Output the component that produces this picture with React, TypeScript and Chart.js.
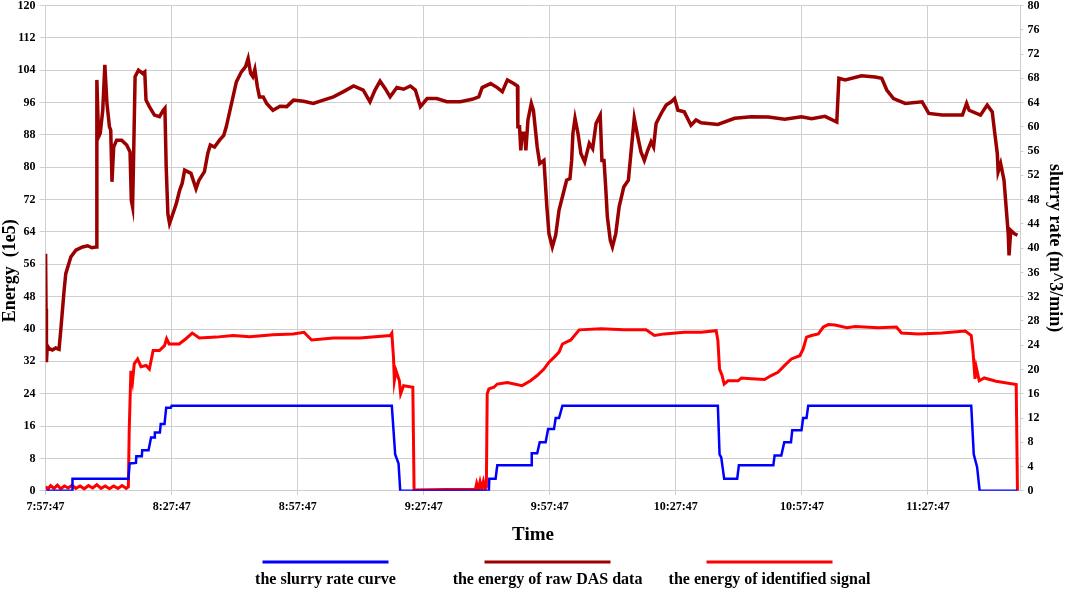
import { useEffect, useRef } from "react"
import { Chart, registerables } from "chart.js"

Chart.register(...registerables)

// minutes after 7:57:47
const timeTicks = [0, 30, 60, 90, 120, 150, 180, 210]
const timeLabels = ["7:57:47", "8:27:47", "8:57:47", "9:27:47", "9:57:47", "10:27:47", "10:57:47", "11:27:47"]

// [minute, m^3/min]
const slurryRate: [number, number][] = [
  [0, 0], [6.3, 0], [6.4, 2], [19.7, 2], [20.0, 4.5], [21.5, 4.6], [21.6, 5.7], [22.9, 5.7], [23.0, 6.7], [24.5, 6.7],
  [25.1, 8.8], [25.9, 8.8], [26.0, 9.6], [27.2, 9.6], [27.4, 11], [28.3, 11], [28.7, 13.7], [29.8, 13.7], [30.0, 14],
  [82.4, 14], [83.2, 6], [84.0, 4.5], [84.4, 0], [105.5, 0], [105.6, 2], [107.1, 2], [107.5, 4.2], [115.6, 4.2],
  [115.7, 6.2], [117, 6.2], [117.6, 8], [119.0, 8], [119.6, 10.2], [121.0, 10.2], [121.4, 12], [122.2, 12], [123.0, 14],
  [160.0, 14], [160.4, 6], [160.8, 5.5], [161.5, 2], [164.6, 2], [165.0, 4.2], [173.2, 4.2], [173.5, 5.8], [175.1, 5.8],
  [175.8, 8], [177.4, 8], [177.7, 10], [179.9, 10], [180.3, 12], [181.1, 12], [181.5, 14], [220.3, 14], [220.9, 6],
  [221.7, 3.9], [222.3, 0], [231.3, 0],
]

// [minute, energy 1e5]
const rawEnergy: [number, number][] = [
  [0, 58.6], [0.1, 45], [0.2, 31.8], [0.4, 35.9], [0.8, 35.2], [1.6, 34.8], [2.4, 35.3], [3.2, 35], [3.6, 39.6], [4.4, 49.5],
  [4.8, 53.7], [6.0, 57.8], [7.2, 59.5], [8.8, 60.3], [10.0, 60.6], [11.0, 60.1], [12.0, 60.3], [12.2, 101.6], [12.6, 87.5],
  [13.0, 88.4], [13.6, 94.1], [14.1, 105.3], [14.6, 95.8], [15.2, 90], [15.5, 89.2], [15.8, 76.4], [16.2, 85], [16.9, 86.7],
  [18.1, 86.7], [19.3, 85.5], [20.1, 83.8], [20.4, 71.8], [20.7, 70.2], [20.9, 80.1], [21.3, 102.4], [22.1, 104], [23.1, 103.2],
  [23.6, 103.6], [23.9, 96.6], [24.7, 95], [25.9, 92.9], [27.1, 92.5], [28.0, 94.1], [28.4, 94.6], [28.7, 80.1], [29.1, 68.5],
  [29.5, 66.1], [30.3, 68.5], [31.1, 71], [31.9, 74.3], [32.5, 76], [33.1, 79.3], [34.6, 78.5], [35.8, 74.7], [36.5, 76.8],
  [37.8, 78.9], [38.6, 83.4], [39.2, 85.5], [40.2, 85], [41.4, 86.7], [42.4, 87.9], [43.0, 90], [43.8, 93.7], [44.6, 97.4],
  [45.4, 101.1], [46.6, 103.6], [47.6, 104.9], [48.2, 106.9], [48.8, 103.2], [49.3, 102.4], [49.8, 104.2], [50.4, 99.9],
  [50.9, 97.4], [51.8, 97.4], [52.6, 95.8], [54.1, 94.1], [55.8, 95.1], [57.4, 95], [59.0, 96.6], [61.4, 96.3], [63.7, 95.8],
  [66.1, 96.6], [68.5, 97.4], [70.9, 98.7], [73.3, 100.1], [75.6, 99.1], [77.2, 96.2], [78.4, 99.1], [79.6, 101.3], [80.8, 99.5],
  [82.0, 97.4], [83.6, 99.7], [85.2, 99.3], [86.8, 100.1], [88.0, 99.1], [89.2, 95], [90.8, 97], [93.1, 97], [95.5, 96.2],
  [98.7, 96.2], [101.5, 96.8], [103.1, 97.4], [103.9, 99.7], [105.9, 100.7], [107.5, 99.7], [108.7, 98.7], [109.9, 101.6],
  [111.4, 100.7], [112.3, 100.1], [112.4, 90], [112.8, 90], [113.1, 84.2], [113.4, 88.4], [114.0, 88.4], [114.3, 84.2],
  [114.8, 91.7], [115.6, 95.8], [116.1, 94.1], [117.0, 85], [117.6, 80.9], [118.6, 81.7], [118.8, 78.5], [119.3, 70.2],
  [119.8, 63.6], [120.6, 60.3], [121.4, 63.2], [122.2, 69.4], [123.2, 73.5], [124.0, 76.8], [124.8, 77.2], [125.2, 81.7],
  [125.5, 88.4], [126.0, 92.1], [126.7, 88.4], [127.4, 83.4], [128.3, 81.3], [129.4, 85.9], [130.2, 84.6], [131.0, 90.8],
  [132.0, 92.9], [132.4, 81.7], [132.9, 81.7], [133.3, 75.1], [133.7, 67.7], [134.4, 61.9], [134.9, 60.3], [135.7, 63.6],
  [136.5, 70.2], [137.6, 75.1], [138.7, 76.8], [139.3, 83.4], [140.1, 92.1], [141.1, 86.7], [141.7, 83.8], [142.5, 81.7],
  [143.3, 84.2], [144.1, 86.3], [144.7, 85], [145.3, 90.8], [146.5, 93.3], [147.7, 95.4], [148.9, 96.2], [149.7, 97],
  [150.5, 94.1], [152.0, 93.7], [153.6, 90.4], [154.8, 91.7], [156.0, 91], [160.0, 90.6], [164.0, 92.1], [168.0, 92.5],
  [172.0, 92.4], [175.9, 91.9], [179.9, 92.5], [182.3, 92], [185.5, 92.6], [188.3, 91.2], [188.8, 102], [190.3, 101.6],
  [194.2, 102.6], [197.4, 102.3], [199.0, 102], [200.2, 99.1], [201.8, 97], [204.6, 95.8], [208.6, 96.2], [210.2, 93.3],
  [213.4, 92.9], [218.2, 92.9], [219.2, 95.8], [219.8, 94.1], [222.5, 92.9], [224.1, 95.4], [225.3, 93.7], [225.9, 88.4],
  [226.5, 83.4], [226.7, 78.9], [227.3, 80.9], [228.1, 76.8], [228.6, 70.2], [229.1, 63.6], [229.3, 58.2], [229.7, 64.4],
  [230.5, 63.6], [231.3, 63.2],
]

// [minute, energy 1e5]
const signalEnergy: [number, number][] = [
  [0, 1.0], [0.6, 0.5], [1.2, 1.3], [2, 0.6], [2.8, 1.4], [3.6, 0.5], [4.5, 1.2], [5.4, 0.7], [6.3, 1.4], [7.2, 0.6],
  [8.2, 1.2], [9.2, 0.5], [10.2, 1.3], [11.2, 0.7], [12.2, 1.5], [13.2, 0.6], [14.2, 1.2], [15.2, 0.5], [16.2, 1.2],
  [17.2, 0.6], [18.2, 1.3], [19.2, 0.6], [19.7, 1], [19.9, 14.9], [20.3, 29.7], [20.7, 27.2], [21.1, 31.4], [21.9, 32.6],
  [22.7, 30.7], [23.9, 31], [24.7, 30.1], [25.6, 34.7], [27.1, 34.7], [28.3, 35.9], [28.8, 37.6], [29.4, 36.3], [31.8, 36.3],
  [33.4, 37.6], [34.9, 39], [36.6, 37.8], [40.6, 38], [44.6, 38.4], [48.6, 38.1], [54.1, 38.6], [58.9, 38.8], [61.5, 39.2],
  [63.3, 37.3], [68.5, 37.8], [74.8, 37.8], [82, 38.4], [82.4, 39], [82.8, 33], [83.0, 27.2], [83.4, 29.7], [84.2, 27.2],
  [84.5, 24], [85.2, 26], [87.4, 25.6], [87.7, 0.2], [95, 0.3], [102.3, 0.4], [102.6, 1.8], [103, 0.3], [103.4, 2.2],
  [103.8, 0.4], [104.2, 2.3], [104.6, 0.5], [104.9, 1], [105.1, 24], [105.5, 25.2], [106.7, 25.6], [107.5, 26.4],
  [109.9, 26.8], [113.4, 26], [115.4, 27.2], [117, 28.5], [118.6, 30.1], [119.8, 31.8], [121, 33], [122.2, 34.3], [123, 36.3],
  [125, 37.3], [127, 39.8], [132.2, 40.1], [137.7, 39.8], [142.9, 39.8], [144.9, 38.4], [147.3, 38.8], [152, 39.2], [156, 39.2],
  [159.6, 39.6], [160, 37.2], [160.4, 30.1], [161, 28.5], [161.5, 26.4], [162.4, 27.2], [164.8, 27.2], [165.6, 27.9],
  [168, 27.7], [171.1, 27.5], [172.7, 28.5], [174.3, 29.3], [175.9, 31], [177.5, 32.6], [179.5, 33.4], [180.3, 35.1],
  [181.1, 38], [182.3, 38.4], [183.9, 38.8], [185.1, 40.5], [186.3, 41.1], [187.9, 41], [190.7, 40.3], [192.7, 40.6],
  [198.2, 40.3], [202.5, 40.5], [203.7, 39], [207.7, 38.8], [213.3, 39], [218.9, 39.5], [220.3, 38.4], [220.7, 34.7],
  [221.2, 27.7], [221.5, 30.5], [222.2, 27.2], [223.4, 27.9], [226.2, 27.1], [231.0, 26.3], [231.3, 0],
]

const legendItems = [
  { label: "the slurry rate curve", color: "#0000ff" },
  { label: "the energy of raw DAS data", color: "#9b0000" },
  { label: "the energy of identified signal", color: "#ff0000" },
]

const serif = "'Liberation Serif', 'Times New Roman', serif"
const gridColor = "#cfcfcf"

// legenda: linha acima do texto
const bottomLegend = {
  id: "bottomLegend",
  afterDraw(chart: Chart) {
    const ctx = chart.ctx
    const mid = chart.width / 2 + 15
    ctx.save()
    ctx.textAlign = "center"
    ctx.textBaseline = "middle"
    ctx.font = `bold 16px ${serif}`
    legendItems.forEach((item, i) => {
      const cx = mid + (i - 1) * 222
      ctx.strokeStyle = item.color
      ctx.lineWidth = 3
      ctx.beginPath()
      ctx.moveTo(cx - 63, 562)
      ctx.lineTo(cx + 63, 562)
      ctx.stroke()
      ctx.fillStyle = "#000"
      ctx.fillText(item.label, cx, 580)
    })
    ctx.restore()
  },
}

function EnergyChart() {
  const chartRef = useRef<HTMLCanvasElement>(null)
  const chartInstance = useRef<Chart | null>(null)

  useEffect(() => {
    if (!chartRef.current) return
    if (chartInstance.current) chartInstance.current.destroy()

    const ctx = chartRef.current.getContext("2d")
    if (!ctx) return

    const toXY = (arr: [number, number][]) => arr.map(([x, y]) => ({ x, y }))
    const tickFont = { family: serif, weight: "bold" as const, size: 12 }
    // lineHeight menor para encostar o topo do gráfico
    const yTickFont = { family: serif, weight: "bold" as const, size: 12, lineHeight: 0.1 }

    chartInstance.current = new Chart(ctx, {
      type: "line",
      data: {
        datasets: [
          {
            label: legendItems[0].label,
            data: toXY(slurryRate),
            borderColor: legendItems[0].color,
            borderWidth: 2.5,
            yAxisID: "y1",
            order: 1,
          },
          {
            label: legendItems[1].label,
            data: toXY(rawEnergy),
            borderColor: legendItems[1].color,
            borderWidth: 3.5,
            yAxisID: "y",
            order: 3,
          },
          {
            label: legendItems[2].label,
            data: toXY(signalEnergy),
            borderColor: legendItems[2].color,
            borderWidth: 3,
            yAxisID: "y",
            order: 2,
          },
        ],
      },
      options: {
        animation: false,
        responsive: true,
        maintainAspectRatio: false,
        elements: { point: { radius: 0 }, line: { tension: 0 } },
        layout: { padding: { top: 5.5, bottom: 47, left: 0, right: 0 } },
        plugins: { legend: { display: false }, tooltip: { enabled: false } },
        scales: {
          x: {
            type: "linear",
            min: 0,
            max: 232,
            afterBuildTicks: (scale) => {
              scale.ticks = timeTicks.map((v) => ({ value: v }))
            },
            ticks: {
              font: tickFont,
              color: "#000",
              maxRotation: 0,
              padding: 5,
              callback: (v) => timeLabels[timeTicks.indexOf(Number(v))] ?? "",
            },
            grid: { color: gridColor, tickLength: 4 },
            border: { color: gridColor },
            title: {
              display: true,
              text: "Time",
              color: "#000",
              font: { family: serif, weight: "bold", size: 19 },
              padding: { top: 4, bottom: 0 },
            },
          },
          y: {
            position: "left",
            min: 0,
            max: 120,
            ticks: { stepSize: 8, font: yTickFont, color: "#000", padding: 4 },
            grid: { color: gridColor, tickLength: 6 },
            border: { color: gridColor },
            title: {
              display: true,
              text: "Energy  (1e5)          ",
              color: "#000",
              font: { family: serif, weight: "bold", size: 18 },
              padding: { top: 0, bottom: -8 },
            },
          },
          y1: {
            position: "right",
            min: 0,
            max: 80,
            ticks: { stepSize: 4, font: yTickFont, color: "#000", padding: 4 },
            grid: { drawOnChartArea: false, color: gridColor, tickLength: 3 },
            border: { color: gridColor },
            title: {
              display: true,
              text: "slurry rate (m^3/min)",
              color: "#000",
              font: { family: serif, weight: "bold", size: 18 },
              padding: { top: 0, bottom: 0 },
            },
          },
        },
      },
      plugins: [bottomLegend],
    })

    return () => {
      if (chartInstance.current) {
        chartInstance.current.destroy()
        chartInstance.current = null
      }
    }
  }, [])

  return <canvas ref={chartRef} />
}

export default function App() {
  return (
    <div style={{ position: "fixed", left: 0, top: 0, width: 1065, height: 593, background: "#fff" }}>
      <EnergyChart />
    </div>
  )
}
